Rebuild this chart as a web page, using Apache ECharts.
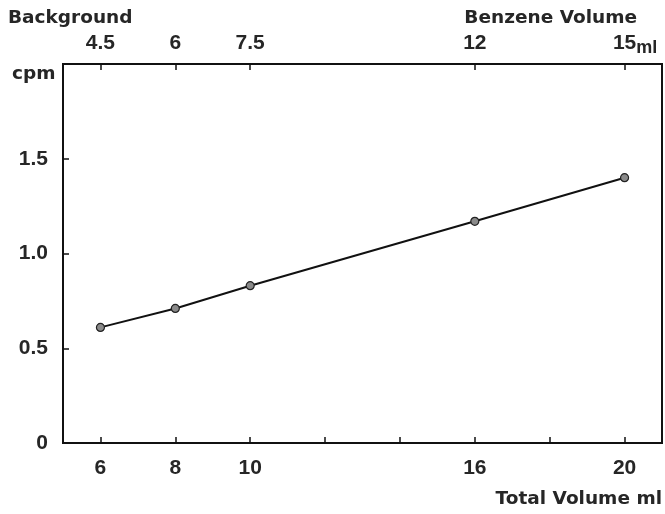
<!DOCTYPE html>
<html>
<head>
<meta charset="utf-8">
<script src="https://cdn.jsdelivr.net/npm/echarts@6/dist/echarts.min.js"></script>
<style>
  html, body { margin: 0; padding: 0; background: #fff; }
  #charts { width: 665px; height: 514px; }
</style>
</head>
<body>
<div id="charts"></div>
<script>
// 数据
var totalVolume = [6, 8, 10, 16, 20];
var benzeneVolume = [4.5, 6, 7.5, 12, 15];
var cpm = [0.61, 0.71, 0.83, 1.17, 1.40];
var bottomTicks = [6, 8, 10, 12, 14, 16, 18, 20];
var bottomLabels = [6, 8, 10, 16, 20];
var yTicks = [0.5, 1.0, 1.5];
var yLabels = [0, 0.5, 1.0, 1.5];

var FONT = 'Liberation Sans';
var INK = '#262626';
var txt = { fontFamily: FONT, fontWeight: 'bold', fontSize: 21, color: INK };
var TITLE_FONT = 'bold 18.5px "DejaVu Sans"';

var myChart = echarts.init(document.getElementById('charts'));
myChart.setOption({
  animation: false,
  grid: {
    left: 63, right: 3, top: 64, bottom: 71,
    show: true, borderColor: '#111', borderWidth: 2
  },
  xAxis: [{
    type: 'value', position: 'bottom', min: 5, max: 21,
    splitLine: { show: false },
    axisLine: { lineStyle: { color: '#111', width: 2 } },
    axisTick: { inside: true, length: 6, customValues: bottomTicks, lineStyle: { color: '#111', width: 1.5 } },
    axisLabel: Object.assign({ margin: 15, customValues: bottomLabels }, txt)
  }, {
    type: 'value', position: 'top', min: 5, max: 21,
    splitLine: { show: false },
    axisLine: { lineStyle: { color: '#111', width: 2 } },
    axisTick: { inside: true, length: 6, customValues: totalVolume, lineStyle: { color: '#111', width: 1.5 } },
    axisLabel: Object.assign({
      margin: 9,
      customValues: totalVolume,
      formatter: function (v) {
        var b = benzeneVolume[totalVolume.indexOf(v)];
        if (v === totalVolume[totalVolume.length - 1]) {
          return '{h|ml}{n|' + b + '}{s|ml}';
        }
        return '{n|' + b + '}';
      },
      rich: {
        n: { fontFamily: FONT, fontWeight: 'bold', fontSize: 21, color: INK, lineHeight: 24 },
        s: { fontFamily: FONT, fontWeight: 'bold', fontSize: 18, color: INK, lineHeight: 24, padding: [10, 0, 0, 0] },
        h: { fontFamily: FONT, fontWeight: 'bold', fontSize: 18, color: 'transparent', lineHeight: 24, padding: [10, 0, 0, 0] }
      }
    }, txt)
  }],
  yAxis: {
    type: 'value', min: 0, max: 2,
    splitLine: { show: false },
    axisLine: { show: true, lineStyle: { color: '#111', width: 2 } },
    axisTick: { show: true, inside: true, length: 6, customValues: yTicks, lineStyle: { color: '#111', width: 1.5 } },
    axisLabel: Object.assign({
      margin: 15,
      customValues: yLabels,
      formatter: function (v) { return v === 0 ? '0' : v.toFixed(1); }
    }, txt)
  },
  graphic: [
    { type: 'text', left: 8, top: 9, style: { text: 'Background', fill: INK, font: TITLE_FONT } },
    { type: 'text', right: 28, top: 9, style: { text: 'Benzene Volume', fill: INK, font: TITLE_FONT } },
    { type: 'text', left: 12, top: 65, style: { text: 'cpm', fill: INK, font: TITLE_FONT } },
    { type: 'text', right: 3, top: 490, style: { text: 'Total Volume ml', fill: INK, font: TITLE_FONT } }
  ],
  series: [{
    type: 'line',
    xAxisIndex: 0,
    data: totalVolume.map(function (x, i) { return [x, cpm[i]]; }),
    symbol: 'circle',
    symbolSize: 8,
    lineStyle: { color: '#111', width: 2 },
    itemStyle: { color: '#8a8a8a', borderColor: '#222', borderWidth: 1.2 }
  }]
});
</script>
</body>
</html>
